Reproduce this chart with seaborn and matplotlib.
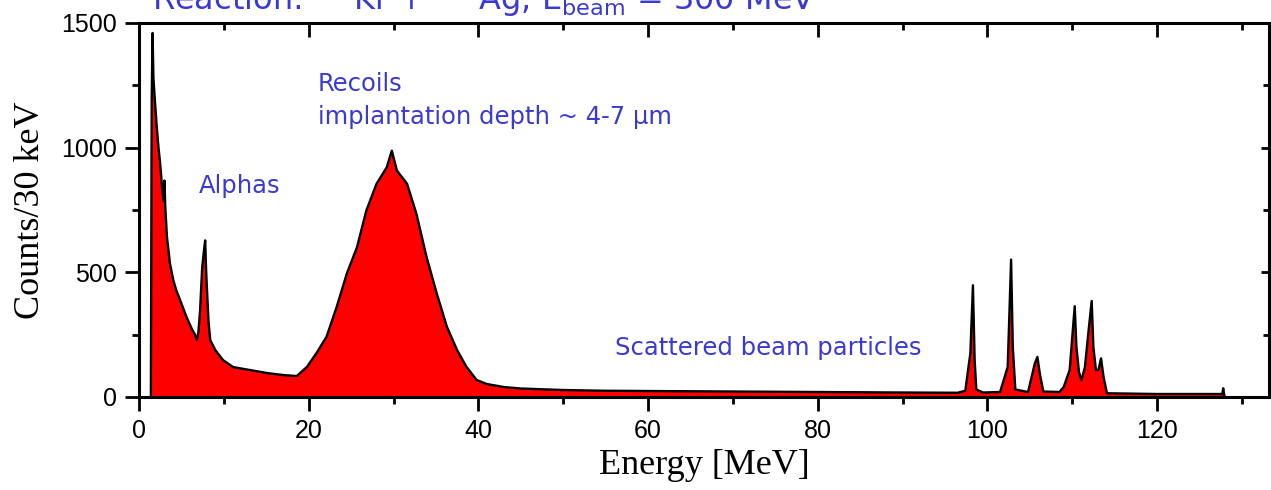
import numpy as np
import matplotlib
matplotlib.use("Agg")
import matplotlib.pyplot as plt
import seaborn as sns

# spectrum (energy in MeV, counts per 30 keV)
energy = [1.40, 1.50, 1.60, 1.70, 1.85, 2.1, 2.3, 2.5, 2.7, 2.9, 3.0, 3.1, 3.3, 3.65,
          4.05, 4.4, 5.0, 5.6, 6.2, 6.6, 6.8, 7.0, 7.2, 7.45, 7.7, 7.8, 7.9, 8.0, 8.2,
          8.4, 9.0, 9.9, 11.1, 13.1, 15.1, 17.0, 18.6, 19.8, 20.9, 22.1, 23.3, 24.5,
          25.7, 26.8, 28.0, 29.2, 29.8, 30.4, 31.6, 32.7, 33.9, 35.1, 36.3, 37.5,
          38.6, 39.8, 41, 43, 45, 50, 55, 60, 70, 80, 90, 96.5, 97.4, 98.0, 98.3,
          98.5, 98.7, 99.5, 101.5, 102.4, 102.8, 103.0, 103.3, 104.8, 105.6, 105.9,
          106.2, 106.6, 108.5, 109.0, 109.7, 110.3, 110.5, 110.8, 111.1, 111.5,
          111.9, 112.3, 112.5, 112.8, 113.1, 113.4, 113.7, 114.1, 120, 127.7, 127.8,
          127.9, 128.0]
counts = [0, 1200, 1460, 1280, 1200, 1080, 1000, 934, 850, 788, 868, 760, 640, 535,
          468, 428, 375, 321, 275, 250, 228, 260, 348, 520, 600, 628, 520, 440, 300,
          228, 188, 148, 120, 108, 96, 88, 84, 121, 175, 241, 361, 495,
          601, 748, 855, 921, 988, 908, 855, 735, 561, 415, 281, 188,
          121, 68, 52, 40, 34, 28, 25, 24, 22, 20, 18, 17, 25, 176, 448,
          150, 30, 18, 20, 121, 551, 200, 30, 20, 135, 161,
          90, 22, 20, 40, 108, 364, 201, 100, 68, 120,
          255, 385, 200, 108, 108, 155, 80, 15, 12, 12, 35,
          12, 0]

title = r"Reaction:  $^{84}$Kr + $^{107}$Ag, E$_{\rm beam}$ = 300 MeV"
labels = ["Alphas", "Recoils\nimplantation depth ~ 4-7 \u03bcm", "Scattered beam particles"]
label_pos = [(7.1, 848), (21.1, 1190), (56.1, 196)]

sns.set_style("ticks")
plt.rcParams["font.family"] = ["Liberation Sans", "DejaVu Sans"]
plt.rcParams.update({"text.color": "black", "axes.labelcolor": "black",
                     "xtick.color": "black", "ytick.color": "black",
                     "axes.edgecolor": "black"})

fig = plt.figure(figsize=(12.71, 4.9), dpi=100)
ax = fig.add_axes([139 / 1271, 1 - 397 / 490, 1130 / 1271, 374 / 490])

ax.fill_between(energy, counts, color="#ff0000", lw=0)
sns.lineplot(x=energy, y=counts, color="black", lw=1.7, ax=ax, sort=False)

ax.set_xlim(0, 133.2)
ax.set_ylim(0, 1500)
ax.set_xticks(np.arange(0, 121, 20))
ax.set_xticks(np.arange(10, 131, 20), minor=True)
ax.set_yticks([0, 500, 1000, 1500])
ax.set_yticks([250, 750, 1250], minor=True)
for s in ax.spines.values():
    s.set_visible(True)
    s.set_linewidth(2.2)
ax.tick_params(which="major", length=10, width=2, labelsize=18, pad=6, direction="out")
ax.tick_params(which="minor", length=5, width=2, direction="out")

# inward ticks on top and right
top = ax.secondary_xaxis("top")
top.set_xticks(np.arange(0, 121, 20))
top.set_xticks(np.arange(10, 131, 20), minor=True)
top.tick_params(which="major", direction="in", length=10, width=2, labeltop=False)
top.tick_params(which="minor", direction="in", length=5, width=2)
right = ax.secondary_yaxis("right")
right.set_yticks([0, 500, 1000, 1500])
right.set_yticks([250, 750, 1250], minor=True)
right.tick_params(which="major", direction="in", length=6, width=2, labelright=False)
right.tick_params(which="minor", direction="in", length=4, width=2)

ax.set_xlabel("Energy [MeV]", family="Liberation Serif", fontsize=26, labelpad=4)
ax.set_ylabel("Counts/30 keV", family="Liberation Serif", fontsize=26, labelpad=10)

blue = "#3a3ad0"
for txt, (x, y) in zip(labels, label_pos):
    ax.text(x, y, txt, color=blue, fontsize=17.5, family="DejaVu Sans",
            ha="left", va="center", linespacing=1.45)

fig.text(152 / 1271, 1 - 10 / 490, title, color=blue, fontsize=23,
         family="DejaVu Sans", ha="left", va="baseline")

fig.savefig("out.png", dpi=100)
